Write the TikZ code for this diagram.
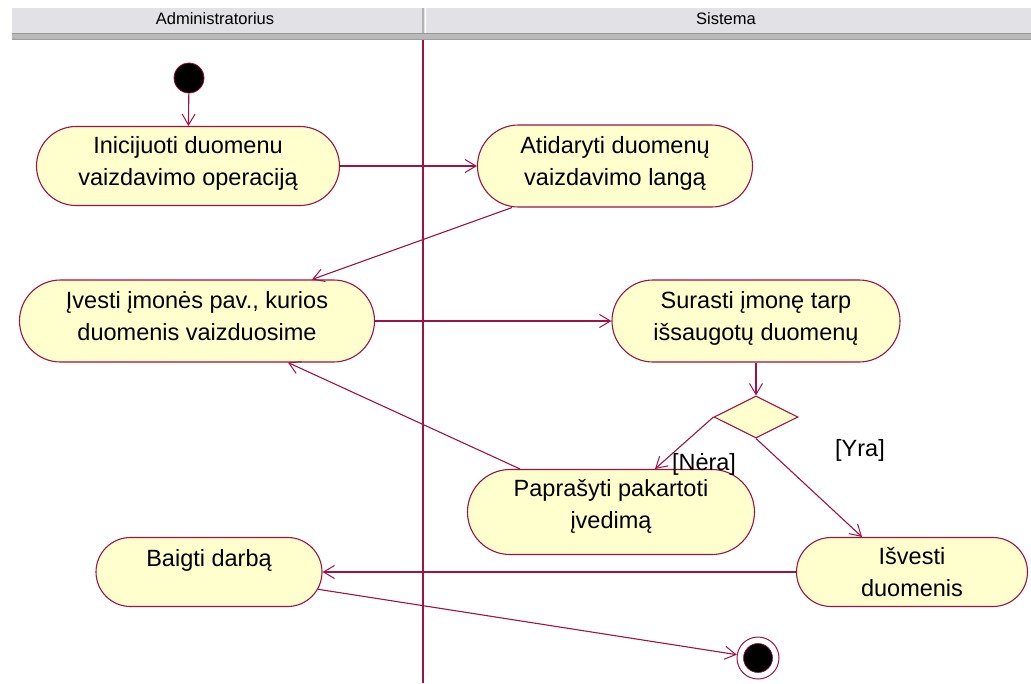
\documentclass[tikz,border=0pt]{standalone}
\usepackage{fontspec}
\setmainfont{Liberation Sans}
\usetikzlibrary{shapes.misc,shapes.geometric,arrows.meta,calc}
\definecolor{umlline}{RGB}{158,18,70}
\definecolor{umlfill}{RGB}{255,255,206}
\definecolor{headfill}{RGB}{225,225,230}
\begin{document}
\begin{tikzpicture}[x=1pt,y=-1pt,
  every node/.style={font=\fontsize{23.5}{32}\selectfont},
  activity/.style={rounded rectangle, draw=umlline, fill=umlfill, line width=1.1pt,
    inner sep=0pt, align=center},
  decision/.style={diamond, draw=umlline, fill=umlfill, line width=1.1pt,
    minimum width=84pt, minimum height=42pt, inner sep=0pt, aspect=2},
  flow/.style={draw=umlline, line width=1.1pt,
    -{Straight Barb[length=11pt,width=13pt,line width=1pt]}},
  guard/.style={inner sep=0pt},
  lanehead/.style={font=\fontsize{16.5}{18}\selectfont, inner sep=0pt}]
\useasboundingbox (0,0) rectangle (1031,683);
\fill[white] (0,0) rectangle (1031,683);

% swimlane header
\fill[headfill] (12,8) rectangle (1031,33);
\fill[gray!55] (12,33) rectangle (1031,40);
\draw[gray!80, line width=1pt] (12,33.5) -- (1031,33.5);
\draw[gray!75, line width=1pt] (12,39.5) -- (1031,39.5);
\draw[gray!60, line width=1.5pt] (423,8) -- (423,33);
\draw[white, line width=1pt] (425,8) -- (425,33);
\node[lanehead] (hadm) at (215,19) {Administratorius};
\node[lanehead] (hsys) at (726,19) {Sistema};

% lane divider
\draw[umlline, line width=1.1pt] (423,40) -- (423,683);

% initial and final states
\node[circle, fill=black, draw=umlline, line width=0.8pt, minimum size=30pt, inner sep=0pt] (start) at (189,78) {};
\node[circle, draw=umlline, fill=white, line width=1pt, minimum size=42pt, inner sep=0pt] (fin) at (758,658) {};
\node[circle, fill=black, draw=umlline, line width=0.6pt, minimum size=29pt, inner sep=0pt] (finin) at (758,658) {};

% activities
\node[activity, minimum width=303pt, minimum height=79pt, text depth=10pt] (a1) at (188,166)
  {Inicijuoti duomenu\\vaizdavimo operaciją};
\node[activity, minimum width=275pt, minimum height=82pt, text depth=10pt] (a2) at (615,166)
  {Atidaryti duomenų\\vaizdavimo langą};
\node[activity, minimum width=355pt, minimum height=82pt, text depth=10pt] (a3) at (197,321)
  {Įvesti įmonės pav., kurios\\duomenis vaizduosime};
\node[activity, minimum width=288pt, minimum height=82pt, text depth=10pt] (a4) at (756,321)
  {Surasti įmonę tarp\\išsaugotų duomenų};
\node[decision] (dec) at (756,417) {};
\node[activity, minimum width=287pt, minimum height=85pt, text depth=16pt] (a5) at (611,512)
  {Paprašyti pakartoti\\įvedimą};
\node[activity, minimum width=226pt, minimum height=69pt, text depth=28pt] (a6) at (209,572)
  {Baigti darbą};
\node[activity, minimum width=231pt, minimum height=69pt] (a7) at (912,572)
  {Išvesti\\duomenis};

% guards
\node[guard] (gno) at (704,464) {[Nėra]};
\node[guard] (gyes) at (860,450) {[Yra]};

% transitions
\draw[flow] (start) -- (a1);
\draw[flow] (a1.east) -- (a2.west);
\draw[flow] ([xshift=-103pt]a2.south) -- ([xshift=115pt]a3.north);
\draw[flow] (a3.east) -- (a4.west);
\draw[flow] (a4.south) -- (dec.north);
\draw[flow] (dec.west) -- ([xshift=44pt]a5.north);
\draw[flow] (dec.south) -- ([xshift=-50pt]a7.north);
\draw[flow] ([xshift=-91pt]a5.north) -- ([xshift=91pt]a3.south);
\draw[flow] (a7.west) -- (a6.east);
\draw[flow] (a6.-9) -- (fin);
\end{tikzpicture}
\end{document}
